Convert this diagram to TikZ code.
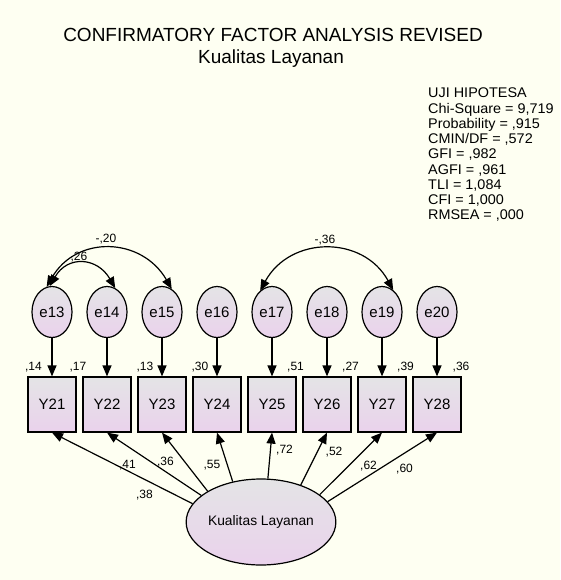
\documentclass[tikz,border=0pt]{standalone}
\usepackage{fontspec}
\setmainfont{Liberation Sans}
\usetikzlibrary{shapes.geometric,arrows.meta}
\definecolor{paper}{RGB}{254,255,242}
\definecolor{shadetop}{RGB}{228,228,230}
\definecolor{shadebot}{RGB}{234,210,236}
\tikzset{
  x=1pt, y=-1pt,
  shaded/.style={draw=black, line width=1.2pt, top color=shadetop, bottom color=shadebot},
  errvar/.style={shaded, ellipse, minimum width=40pt, minimum height=51pt, inner sep=0pt,
                 font=\fontsize{15}{17}\selectfont},
  obsvar/.style={shaded, rectangle, minimum width=48pt, minimum height=55pt, inner sep=0pt,
                 font=\fontsize{15}{17}\selectfont},
  latent/.style={shaded, ellipse, minimum width=124pt, minimum height=86pt, inner sep=0pt,
                 font=\fontsize{13.8}{16}\selectfont},
  tip/.tip={Triangle[length=11pt,width=9pt]},
  path/.style={line width=1.2pt, -tip},
  cov/.style={line width=1.2pt, tip-tip},
  est/.style={font=\fontsize{12}{14}\selectfont, inner sep=0pt},
  stat/.style={font=\fontsize{14}{16}\selectfont, inner sep=0pt, anchor=base west},
  ttl/.style={font=\fontsize{19}{22}\selectfont, inner sep=0pt, anchor=base}
}
\begin{document}
\begin{tikzpicture}
\fill[paper] (0,0) rectangle (560,580);
\useasboundingbox (0,0) rectangle (560,580);

% titles
\node[ttl] (title) at (273,42) {CONFIRMATORY FACTOR ANALYSIS REVISED};
\node[ttl] (subtitle) at (271,64) {Kualitas Layanan};

% fit statistics, set slightly wide
\foreach \txt [count=\i from 0] in {UJI HIPOTESA, Chi-Square = 9{,}719, Probability = {,}915,
    CMIN/DF = {,}572, GFI = {,}982, AGFI = {,}961, TLI = 1{,}084, CFI = 1{,}000, RMSEA = {,}000}
  \node[stat] (fit\i) at (428,{98+15.2*\i}) {\scalebox{1.03}[1]{\txt}};

% error terms and indicators
\foreach \n [count=\i from 0] in {13,...,20} {
  \node[errvar] (e\n) at ({52+55*\i},312) {e\n};
}
\foreach \n [count=\i from 0] in {21,...,28} {
  \node[obsvar] (Y\n) at ({52+55*\i},404.5) {Y\n};
}
\foreach \a/\b in {13/21,14/22,15/23,16/24,17/25,18/26,19/27,20/28}
  \draw[path] (e\a.south) -- (Y\b.north);

% latent factor
\node[latent] (K) at (261,522) {Kualitas Layanan};

% factor loadings
\draw[path] (K.165) -- (Y21.south);
\draw[path] (K.156) -- (Y22.south);
\draw[path] (K.150) -- (Y23.south);
\draw[path] (K.125) -- (Y24.south);
\draw[path] (K.81)  -- (Y25.south);
\draw[path] (K.43)  -- (Y26.south);
\draw[path] (K.25)  -- (Y27.south);
\draw[path] (K.17)  -- (Y28.south);

% error covariances
\draw[cov] (e13.102) .. controls +(30,-52) and +(-30,-52) .. (e15.67);
\draw[cov] (e13.95) .. controls +(18,-31) and +(-18,-31) .. (e14.71);
\draw[cov] (e17.119) .. controls +(30,-55) and +(-30,-55) .. (e19.63);

% estimates
\node[est] (c1) at (106,239) {-,20};
\node[est] (c2) at (79,257) {,26};
\node[est] (c3) at (325,240) {-,36};

\node[est] (r21) at (33.5,367) {,14};
\node[est] (r22) at (78,367) {,17};
\node[est] (r23) at (145,367) {,13};
\node[est] (r24) at (200,367) {,30};
\node[est] (r25) at (295.5,367) {,51};
\node[est] (r26) at (350.5,367) {,27};
\node[est] (r27) at (405.5,367) {,39};
\node[est] (r28) at (461,367) {,36};

\node[est] (l21) at (144.5,495) {,38};
\node[est] (l22) at (127.5,465) {,41};
\node[est] (l23) at (165.5,462) {,36};
\node[est] (l24) at (212,465) {,55};
\node[est] (l25) at (284.5,450) {,72};
\node[est] (l26) at (334,452) {,52};
\node[est] (l27) at (368.5,466) {,62};
\node[est] (l28) at (404.5,469) {,60};
\end{tikzpicture}
\end{document}
